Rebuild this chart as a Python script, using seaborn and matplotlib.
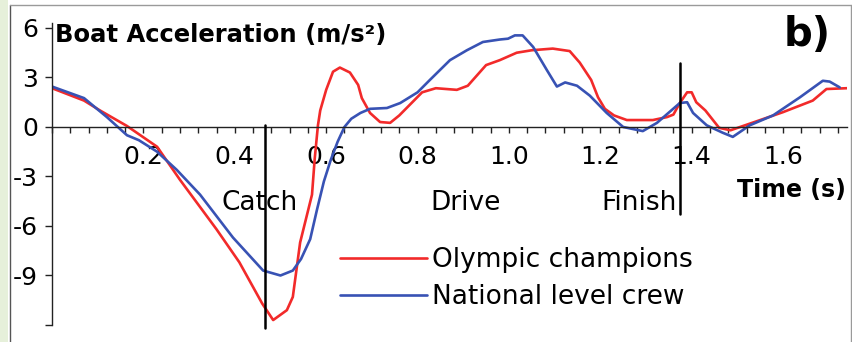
import matplotlib
matplotlib.use("Agg")
import matplotlib.pyplot as plt
from matplotlib.ticker import FixedLocator, MultipleLocator
from matplotlib.patches import Rectangle
from matplotlib.lines import Line2D
import pandas as pd
import seaborn as sns

# Curvas (tiempo en s, aceleración en m/s^2)
tiempo_olimpico = [0.00, 0.07, 0.105, 0.164, 0.23, 0.28, 0.36, 0.41, 0.46, 0.484,
                   0.514, 0.527, 0.543, 0.569, 0.575, 0.582, 0.587, 0.60, 0.615, 0.63,
                   0.652, 0.67, 0.678, 0.696, 0.718, 0.74, 0.76, 0.81, 0.84, 0.886,
                   0.91, 0.95, 0.98, 1.017, 1.05, 1.096, 1.133, 1.155, 1.18, 1.195,
                   1.21, 1.23, 1.258, 1.315, 1.346, 1.36, 1.374, 1.39, 1.40, 1.41,
                   1.43, 1.46, 1.485, 1.527, 1.60, 1.665, 1.695, 1.74]
acel_olimpico = [2.35, 1.6, 1.0, 0.06, -1.2, -3.2, -6.2, -8.2, -10.7, -11.7,
                 -11.1, -10.3, -7.0, -4.1, -1.9, 0.1, 1.0, 2.25, 3.35, 3.6,
                 3.3, 2.55, 1.75, 0.85, 0.3, 0.25, 0.7, 2.1, 2.35, 2.25,
                 2.5, 3.75, 4.05, 4.5, 4.65, 4.75, 4.6, 3.9, 2.85, 1.8,
                 1.1, 0.7, 0.42, 0.42, 0.6, 0.75, 1.45, 2.1, 2.1, 1.5,
                 1.0, -0.05, -0.2, 0.2, 0.9, 1.6, 2.3, 2.35]

tiempo_nacional = [0.00, 0.07, 0.12, 0.164, 0.19, 0.23, 0.273, 0.324, 0.396, 0.462,
                   0.50, 0.527, 0.545, 0.565, 0.58, 0.595, 0.61, 0.625, 0.64, 0.655,
                   0.675, 0.696, 0.733, 0.762, 0.80, 0.827, 0.871, 0.908, 0.943, 0.98,
                   0.998, 1.013, 1.03, 1.053, 1.083, 1.105, 1.123, 1.149, 1.177, 1.214,
                   1.25, 1.293, 1.324, 1.374, 1.39, 1.403, 1.433, 1.468, 1.49, 1.527,
                   1.578, 1.637, 1.687, 1.702, 1.724]
acel_nacional = [2.45, 1.75, 0.6, -0.5, -0.8, -1.5, -2.6, -4.1, -6.7, -8.7,
                 -9.0, -8.7, -8.0, -6.8, -5.0, -3.3, -2.0, -0.9, 0.0, 0.5,
                 0.85, 1.1, 1.15, 1.45, 2.1, 2.85, 4.05, 4.65, 5.15, 5.3,
                 5.35, 5.55, 5.55, 4.85, 3.45, 2.45, 2.7, 2.5, 1.9, 0.85,
                 0.0, -0.25, 0.25, 1.45, 1.5, 0.85, 0.1, -0.35, -0.6, 0.1,
                 0.7, 1.8, 2.8, 2.75, 2.4]

series = ["Olympic champions", "National level crew"]
colores = ["#f22a2a", "#3852b4"]

fases = ["Catch", "Drive", "Finish"]
fases_x = [0.455, 0.905, 1.285]
lineas_x = [0.466, 1.374]          # líneas verticales de catch y finish
lineas_y = [(-12.2, 0.1), (-5.3, 3.9)]

ticks_x = [0.2, 0.4, 0.6, 0.8, 1.0, 1.2, 1.4, 1.6]
etiquetas_x = ["0.2", "0.4", "0.6", "0.8", "1.0", "1.2", "1.4", "1.6"]
ticks_y = [-12, -9, -6, -3, 0, 3, 6]
etiquetas_y = ["", "-9", "-6", "-3", "0", "3", "6"]

df = pd.concat([
    pd.DataFrame({"t": tiempo_olimpico, "a": acel_olimpico, "serie": series[0]}),
    pd.DataFrame({"t": tiempo_nacional, "a": acel_nacional, "serie": series[1]}),
])

sns.set_style("white")
plt.rcParams["font.family"] = ["DejaVu Sans"]
plt.rcParams["text.color"] = "black"
plt.rcParams["xtick.color"] = "black"
plt.rcParams["ytick.color"] = "black"

fig = plt.figure(figsize=(8.53, 3.42), dpi=100)
ax = fig.add_axes([0.061, 0.0497, 0.932, 0.883])

sns.lineplot(data=df, x="t", y="a", hue="serie", palette=dict(zip(series, colores)),
             estimator=None, sort=False, linewidth=1.9, ax=ax)
for linea in ax.get_lines():
    linea.set_solid_joinstyle("round")

for x, (y0, y1) in zip(lineas_x, lineas_y):
    ax.plot([x, x], [y0, y1], color="black", linewidth=1.8, clip_on=False, zorder=5)

ax.set_xlim(0, 1.74)
ax.set_ylim(-12, 6.3)

ax.spines["top"].set_visible(False)
ax.spines["right"].set_visible(False)
ax.spines["bottom"].set_position(("data", 0))
for s in ["left", "bottom"]:
    ax.spines[s].set_color("#222222")
    ax.spines[s].set_linewidth(1.0)

ax.xaxis.set_major_locator(FixedLocator(ticks_x))
ax.set_xticklabels(etiquetas_x)
ax.xaxis.set_minor_locator(MultipleLocator(0.04))
ax.set_yticks(ticks_y)
ax.set_yticklabels(etiquetas_y)
ax.tick_params(axis="x", which="both", direction="out", length=4, width=1,
               color="#222222", labelsize=18, pad=9, bottom=True)
ax.tick_params(axis="y", direction="out", length=5, width=1, color="#222222",
               labelsize=18, pad=5, left=True)
ax.set_xlabel("")
ax.set_ylabel("")

ax.text(0.007, 5.6, "Boat Acceleration (m/s²)", fontsize=17.5, fontweight="bold",
        ha="left", va="center")
ax.text(1.652, 5.55, "b)", fontsize=29, fontweight="bold", ha="center", va="center")
ax.text(1.737, -3.8, "Time (s)", fontsize=17, fontweight="bold", ha="right", va="center")
for nombre, x in zip(fases, fases_x):
    ax.text(x, -4.6, nombre, fontsize=19, ha="center", va="center")

ax.legend(title=None, frameon=False, fontsize=19, handlelength=3.3,
          handletextpad=0.2, labelspacing=0.42, loc="upper left",
          bbox_to_anchor=(0.362, 0.258), borderaxespad=0, borderpad=0)

# marco de la imagen original
fig.patches.append(Rectangle((0, 0), 8 / 853, 1, transform=fig.transFigure,
                             facecolor="#e6f0da", edgecolor="none", zorder=0))
fig.lines.append(Line2D([10 / 853, 10 / 853], [0, 1 - 5 / 342], transform=fig.transFigure,
                        color="#555555", linewidth=1.0))
fig.lines.append(Line2D([10 / 853, 851 / 853], [1 - 5 / 342, 1 - 5 / 342],
                        transform=fig.transFigure, color="#9a9a9a", linewidth=1.0))
fig.lines.append(Line2D([851 / 853, 851 / 853], [0, 1 - 5 / 342], transform=fig.transFigure,
                        color="#9a9a9a", linewidth=1.0))

fig.savefig("out.png", dpi=100)
